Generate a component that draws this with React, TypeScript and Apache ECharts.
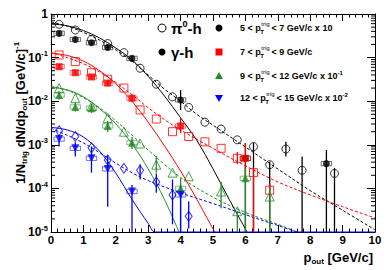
import React, { useEffect, useRef } from "react";
import * as echarts from "echarts";

const FF = "'Liberation Sans', Arial, Helvetica, sans-serif";

// ---------- pi0-h (open markers) ----------
const PI0_57_X = [0.25, 0.75, 1.25, 1.75, 2.25, 2.75, 3.25, 3.75, 4.25, 4.75, 5.25, 5.75, 6.25, 6.75, 7.25, 7.75, 8.75];
const PI0_57_Y = [0.58, 0.43, 0.26, 0.21, 0.13, 0.057, 0.0245, 0.0126, 0.0072, 0.0033, 0.0023, 0.0013, 0.00091, 0.00035, 0.0008, 0.00026, 0.00022];
const PI0_57_BAR_X = [6.25, 6.75, 7.25, 7.75, 8.75];
const PI0_57_BAR_LO = [1e-5, 1e-5, 5.4e-4, 1e-5, 1e-5];
const PI0_57_BAR_HI = [1.1e-3, 4.1e-4, 1.17e-3, 5.4e-4, 2.95e-4];

const PI0_79_X = [0.25, 0.75, 1.25, 1.75, 2.25, 2.75, 3.25, 3.75, 4.25, 4.75, 5.25, 5.75, 6.25, 6.75];
const PI0_79_Y = [0.115, 0.081, 0.045, 0.032, 0.02, 0.0063, 0.0039, 0.002, 0.00155, 0.00117, 0.00083, 0.00049, 0.00023, 9.1e-5];
const PI0_79_BAR_X = [5.75, 6.25, 6.75];
const PI0_79_BAR_LO = [3.6e-4, 1e-5, 5.5e-5];
const PI0_79_BAR_HI = [6.8e-4, 3.0e-4, 1.3e-4];

const PI0_912_X = [0.25, 0.75, 1.25, 1.75, 2.25, 2.75, 3.25, 3.75, 4.25, 5.25, 5.75, 6.75];
const PI0_912_Y = [0.02, 0.0117, 0.0076, 0.0041, 0.002, 0.00107, 3.5e-4, 2.3e-4, 1.9e-4, 8.5e-5, 3.0e-5, 6.5e-5];
const PI0_912_BAR_X = [3.25, 5.25, 5.75, 6.75];
const PI0_912_BAR_LO = [2.3e-4, 3.5e-5, 1e-5, 1e-5];
const PI0_912_BAR_HI = [5.5e-4, 1.4e-4, 3.0e-5, 1.0e-4];

const PI0_1215_X = [0.25, 0.75, 1.25, 1.75, 2.25, 2.75, 3.25, 3.75, 4.25];
const PI0_1215_Y = [0.0021, 0.00155, 0.00085, 0.00045, 0.00029, 0.00026, 0.00014, 7.1e-5, 2.3e-5];
const PI0_1215_BAR_X = [2.75, 3.25, 3.75, 4.25];
const PI0_1215_BAR_LO = [1.6e-4, 8e-5, 1.5e-5, 1.2e-5];
const PI0_1215_BAR_HI = [3.6e-4, 2.2e-4, 1.6e-4, 5e-5];

// ---------- gamma-h (filled markers) ----------
const G_57_X = [0.25, 0.75, 1.25, 1.75, 2.5, 4.0, 6.0, 8.5];
const G_57_Y = [0.36, 0.26, 0.22, 0.17, 0.096, 0.0107, 4.9e-4, 3.7e-4];
const G_57_LO = [0.33, 0.24, 0.2, 0.155, 0.085, 0.0063, 1e-5, 1e-5];
const G_57_HI = [0.39, 0.28, 0.24, 0.185, 0.108, 0.018, 1.1e-3, 7.6e-4];

const G_79_X = [0.25, 0.75, 1.25, 1.75, 2.5, 4.0, 6.0];
const G_79_Y = [0.062, 0.045, 0.036, 0.026, 0.0117, 0.0027, 4.9e-4];
const G_79_LO = [0.055, 0.04, 0.032, 0.022, 0.0095, 0.00186, 1.6e-4];
const G_79_HI = [0.07, 0.05, 0.041, 0.031, 0.0142, 0.0041, 1.1e-3];

const G_912_X = [0.25, 0.75, 1.25, 1.75, 2.5, 4.0, 6.0];
const G_912_Y = [0.0138, 0.0074, 0.0069, 0.0027, 0.00112, 1.0e-4, 1.7e-4];
const G_912_LO = [0.011, 0.0058, 0.0054, 0.002, 0.0008, 1e-5, 1e-5];
const G_912_HI = [0.017, 0.0093, 0.0087, 0.0035, 0.0015, 1.7e-4, 2.95e-4];

const G_1215_X = [0.25, 0.75, 1.25, 1.75, 2.5, 4.0];
const G_1215_Y = [0.00135, 0.00083, 0.00049, 0.00028, 8.5e-5, 7.1e-5];
const G_1215_LO = [9.1e-4, 5.4e-4, 2.3e-4, 3.8e-5, 1e-5, 1e-5];
const G_1215_HI = [1.66e-3, 1.15e-3, 9.1e-4, 5.6e-4, 1.2e-4, 1.2e-4];

// ---------- curves ----------
const BLK_SOLID_X = [0, 0.5, 1, 1.5, 2, 2.5, 3, 3.5, 4, 4.5, 5, 5.5, 6.05];
const BLK_SOLID_Y = [0.589, 0.537, 0.417, 0.282, 0.166, 0.089, 0.0372, 0.0132, 0.00417, 0.00126, 2.8e-4, 5.6e-5, 1e-5];
const BLK_DASH_X = [0, 0.5, 1, 1.5, 2, 2.5, 3, 3.5, 4, 4.5, 5, 6, 7, 8, 9, 10];
const BLK_DASH_Y = [0.66, 0.525, 0.38, 0.251, 0.151, 0.083, 0.0398, 0.019, 0.01, 0.005, 0.00282, 8.9e-4, 2.8e-4, 8.9e-5, 3.16e-5, 1.12e-5];

const RED_SOLID_X = [0, 0.5, 1, 1.5, 2, 2.5, 3, 3.5, 4, 4.5, 5.05];
const RED_SOLID_Y = [0.126, 0.112, 0.083, 0.05, 0.025, 0.01, 0.0033, 9.5e-4, 2.5e-4, 5.6e-5, 1e-5];
const RED_DASH_X = [0, 0.5, 1, 1.5, 2, 2.5, 3, 3.5, 4, 5, 6, 7, 8, 9, 10];
const RED_DASH_Y = [0.132, 0.1, 0.0724, 0.0468, 0.0269, 0.0141, 0.00708, 0.0038, 0.00219, 8.3e-4, 3.3e-4, 1.41e-4, 7.1e-5, 3.8e-5, 2.1e-5];

const GRN_SOLID_X = [0, 0.5, 1, 1.5, 2, 2.5, 3, 3.5, 3.95];
const GRN_SOLID_Y = [0.0209, 0.0182, 0.0126, 0.00676, 0.00302, 0.00105, 2.8e-4, 5.6e-5, 1e-5];
const GRN_DASH_X = [0, 0.5, 1, 1.5, 2, 2.5, 3, 3.5, 4, 5, 6, 7, 7.6];
const GRN_DASH_Y = [0.0224, 0.0178, 0.012, 0.00708, 0.00355, 0.00166, 7.6e-4, 3.55e-4, 1.78e-4, 6.3e-5, 2.8e-5, 1.5e-5, 1e-5];

const BLU_SOLID_X = [0, 0.5, 1, 1.5, 2, 2.5, 3, 3.22, 10];
const BLU_SOLID_Y = [0.00251, 0.00219, 0.00151, 7.1e-4, 2.24e-4, 5.6e-5, 1.58e-5, 1e-5, 1e-5];
const BLU_DASH_X = [0, 0.5, 1, 1.5, 2, 2.5, 3, 4, 5, 6, 7, 7.6];
const BLU_DASH_Y = [0.0024, 0.00166, 0.0011, 6.6e-4, 3.8e-4, 2.29e-4, 1.51e-4, 7.9e-5, 4.5e-5, 2.5e-5, 1.41e-5, 1e-5];

// ---------- text ----------
const X_TICKS = ["0", "1", "2", "3", "4", "5", "6", "7", "8", "9", "10"];
const LEG_PREFIX = ["5 < p", "7 < p", "9 < p", "12 < p"];
const LEG_SUFFIX = ["< 7 GeV/c x 10", "< 9 GeV/c", "< 12 GeV/c x 10{s|-1}", "< 15 GeV/c x 10{s|-2}"];

const BLACK = "#000000";
const RED = "#ff0000";
const GREEN = "#238b23";
const BLUE = "#0000ff";

const zip = (xs: number[], ys: number[]) => xs.map((x, i) => [x, ys[i]]);

function curve(xs: number[], ys: number[], color: string, dashed: boolean, clip = true) {
  return {
    type: "line",
    data: zip(xs, ys),
    showSymbol: false,
    smooth: 0.35,
    clip,
    silent: true,
    z: 2,
    lineStyle: { color, width: 1, type: dashed ? [3, 2] : "solid" },
  };
}

function bars(xs: number[], lo: number[], hi: number[], ys: number[] | null, color: string) {
  return {
    type: "custom",
    silent: true,
    z: 3,
    clip: false,
    data: xs.map((x, i) => [x, lo[i], hi[i], ys ? ys[i] : 0]),
    encode: { x: 0, y: [1, 2] },
    renderItem: (_p: any, api: any) => {
      const x = api.value(0);
      const lo = Math.max(api.value(1), 1e-5);
      const hi = api.value(2);
      const y = api.value(3);
      const a = api.coord([x, lo]);
      const b = api.coord([x, hi]);
      const children: any[] = [
        { type: "line", shape: { x1: a[0], y1: a[1], x2: b[0], y2: b[1] }, style: { stroke: color, lineWidth: 1.3 } },
      ];
      if (ys) {
        const c1 = api.coord([x - 0.16, y * 1.12]);
        const c2 = api.coord([x + 0.16, y / 1.12]);
        children.push({
          type: "rect",
          shape: { x: c1[0], y: c1[1], width: c2[0] - c1[0], height: c2[1] - c1[1] },
          style: { fill: "none", stroke: color, lineWidth: 0.8, opacity: 0.7 },
        });
      }
      return { type: "group", children };
    },
  };
}

function points(xs: number[], ys: number[], color: string, symbol: string, size: any, open: boolean, rotate = 0) {
  return {
    type: "scatter",
    data: zip(xs, ys),
    symbol,
    symbolSize: size,
    symbolRotate: rotate,
    silent: true,
    z: 4,
    itemStyle: open
      ? { color: "rgba(255,255,255,0)", borderColor: color, borderWidth: 1 }
      : { color, borderWidth: 0 },
  };
}

function buildOption() {
  const minor: number[][] = [];
  for (let e = -5; e < 0; e++) for (let m = 2; m <= 9; m++) minor.push([0, m * Math.pow(10, e)]);

  const ctx = document.createElement("canvas").getContext("2d")!;
  const graphics: any[] = [];
  const ROWS = [28, 52, 76, 98];
  const legMarks = [
    { type: "circle", shape: { cx: 219, cy: ROWS[0], r: 3.5 }, style: { fill: BLACK } },
    { type: "rect", shape: { x: 215.5, y: ROWS[1] - 3.5, width: 7, height: 7 }, style: { fill: RED } },
    { type: "polygon", shape: { points: [[219, ROWS[2] - 4], [223, ROWS[2] + 3], [215, ROWS[2] + 3]] }, style: { fill: GREEN } },
    { type: "polygon", shape: { points: [[219, ROWS[3] + 4], [223, ROWS[3] - 3], [215, ROWS[3] - 3]] }, style: { fill: BLUE } },
  ];
  graphics.push(...legMarks);
  ROWS.forEach((y, i) => {
    ctx.font = `bold 9px ${FF}`;
    const wp = ctx.measureText(LEG_PREFIX[i]).width;
    ctx.font = `6px ${FF}`;
    const wt = ctx.measureText("trig").width;
    const x0 = 240;
    graphics.push({
      type: "text", x: x0, y,
      style: { text: LEG_PREFIX[i], fill: BLACK, fontSize: 9, fontWeight: "bold", fontFamily: FF, align: "left", verticalAlign: "middle" },
    });
    graphics.push({
      type: "text", x: x0 + wp + 0.5, y: y - 4,
      style: { text: "trig", fill: BLACK, fontSize: 6, fontFamily: FF, align: "left", verticalAlign: "middle" },
    });
    graphics.push({
      type: "text", x: x0 + wp - 0.5, y: y + 4,
      style: { text: "T", fill: BLACK, fontSize: 6, fontWeight: "bold", fontFamily: FF, align: "left", verticalAlign: "middle" },
    });
    graphics.push({
      type: "text", x: x0 + wp + wt + 2.5, y,
      style: {
        text: LEG_SUFFIX[i], fill: BLACK, fontSize: 9, fontWeight: "bold", fontFamily: FF, align: "left", verticalAlign: "middle",
        rich: { s: { fontSize: 6, fontWeight: "bold", fontFamily: FF, fill: BLACK, padding: [0, 0, 6, 0] } },
      },
    });
  });
  // left legend column
  graphics.push({ type: "circle", shape: { cx: 162, cy: 28, r: 4 }, style: { fill: "none", stroke: BLACK, lineWidth: 1 } });
  graphics.push({ type: "circle", shape: { cx: 162, cy: 52, r: 3.5 }, style: { fill: BLACK } });
  graphics.push({
    type: "text", x: 171, y: 28,
    style: {
      text: "π{s|0}-h", fill: BLACK, fontSize: 15, fontWeight: "bold", fontFamily: FF, align: "left", verticalAlign: "middle",
      rich: { s: { fontSize: 9, fontWeight: "bold", fontFamily: FF, fill: BLACK, padding: [0, 0, 9, 0] } },
    },
  });
  graphics.push({
    type: "text", x: 171, y: 52,
    style: { text: "γ-h", fill: BLACK, fontSize: 15, fontWeight: "bold", fontFamily: FF, align: "left", verticalAlign: "middle" },
  });
  // y title
  graphics.push({
    type: "text", x: 20, y: 113, rotation: Math.PI / 2,
    style: {
      text: "1/N{b|trig} dN/dp{b|out} [GeV/c]{t|-1}", fill: BLACK, fontSize: 13, fontWeight: "bold", fontFamily: FF,
      align: "center", verticalAlign: "middle",
      rich: {
        b: { fontSize: 8, fontWeight: "bold", fontFamily: FF, fill: BLACK, padding: [8, 0, 0, 0] },
        t: { fontSize: 8, fontWeight: "bold", fontFamily: FF, fill: BLACK, padding: [0, 0, 8, 0] },
      },
    },
  });
  // x title
  graphics.push({
    type: "text", x: 373, y: 257,
    style: {
      text: "p{b|out} [GeV/c]", fill: BLACK, fontSize: 13, fontWeight: "bold", fontFamily: FF, align: "right", verticalAlign: "middle",
      rich: { b: { fontSize: 8, fontWeight: "bold", fontFamily: FF, fill: BLACK, padding: [9, 0, 0, 0] } },
    },
  });

  const axisCommonX = {
    type: "value", min: 0, max: 10, interval: 1,
    axisLine: { show: true, onZero: false, lineStyle: { color: BLACK, width: 1 } },
    axisTick: { show: true, inside: true, length: 7, lineStyle: { color: BLACK } },
    minorTick: { show: true, splitNumber: 5, length: 3.5, lineStyle: { color: BLACK } },
    splitLine: { show: false },
    minorSplitLine: { show: false },
  };
  const axisCommonY = {
    type: "log", logBase: 10, min: 1e-5, max: 1,
    axisLine: { show: true, onZero: false, lineStyle: { color: BLACK, width: 1 } },
    axisTick: { show: true, inside: true, length: 8, lineStyle: { color: BLACK } },
    splitLine: { show: false },
  };

  return {
    animation: false,
    backgroundColor: "#ffffff",
    grid: { left: 51, right: 15, top: 14, bottom: 38 },
    xAxis: [
      {
        ...axisCommonX,
        position: "bottom",
        axisLabel: {
          show: true, color: BLACK, fontFamily: FF, fontWeight: "bold", fontSize: 11.5, margin: 2,
          formatter: (v: number) => X_TICKS[Math.round(v)] ?? "",
        },
      },
      { ...axisCommonX, position: "top", axisLabel: { show: false } },
    ],
    yAxis: [
      {
        ...axisCommonY,
        position: "left",
        axisLabel: {
          show: true, color: BLACK, fontFamily: FF, fontWeight: "bold", fontSize: 12, margin: 3,
          formatter: (v: number) => {
            const e = Math.round(Math.log10(v));
            return e === 0 ? "1" : "10{s|" + e + "}";
          },
          rich: { s: { fontSize: 7.5, fontWeight: "bold", fontFamily: FF, color: BLACK, padding: [0, 0, 8, 0] } },
        },
      },
      { ...axisCommonY, position: "right", axisLabel: { show: false } },
    ],
    graphic: graphics,
    series: [
      {
        type: "custom", silent: true, z: 1, clip: false,
        data: minor,
        renderItem: (_p: any, api: any) => {
          const v = api.value(1);
          const a = api.coord([0, v]);
          const b = api.coord([10, v]);
          return {
            type: "group",
            children: [
              { type: "line", shape: { x1: a[0], y1: a[1], x2: a[0] + 4, y2: a[1] }, style: { stroke: BLACK, lineWidth: 1 } },
              { type: "line", shape: { x1: b[0], y1: b[1], x2: b[0] - 4, y2: b[1] }, style: { stroke: BLACK, lineWidth: 1 } },
            ],
          };
        },
      },
      curve(BLK_DASH_X, BLK_DASH_Y, BLACK, true),
      curve(RED_DASH_X, RED_DASH_Y, RED, true),
      curve(GRN_DASH_X, GRN_DASH_Y, GREEN, true),
      curve(BLU_DASH_X, BLU_DASH_Y, BLUE, true),
      curve(BLK_SOLID_X, BLK_SOLID_Y, BLACK, false),
      curve(RED_SOLID_X, RED_SOLID_Y, RED, false),
      curve(GRN_SOLID_X, GRN_SOLID_Y, GREEN, false),
      curve(BLU_SOLID_X, BLU_SOLID_Y, BLUE, false, false),

      bars(PI0_57_BAR_X, PI0_57_BAR_LO, PI0_57_BAR_HI, null, BLACK),
      bars(PI0_79_BAR_X, PI0_79_BAR_LO, PI0_79_BAR_HI, null, RED),
      bars(PI0_912_BAR_X, PI0_912_BAR_LO, PI0_912_BAR_HI, null, GREEN),
      bars(PI0_1215_BAR_X, PI0_1215_BAR_LO, PI0_1215_BAR_HI, null, BLUE),
      bars(G_57_X, G_57_LO, G_57_HI, G_57_Y, BLACK),
      bars(G_79_X, G_79_LO, G_79_HI, G_79_Y, RED),
      bars(G_912_X, G_912_LO, G_912_HI, G_912_Y, GREEN),
      bars(G_1215_X, G_1215_LO, G_1215_HI, G_1215_Y, BLUE),

      points(PI0_57_X, PI0_57_Y, BLACK, "circle", 8, true),
      points(PI0_79_X, PI0_79_Y, RED, "rect", 8, true),
      points(PI0_912_X, PI0_912_Y, GREEN, "triangle", 9, true),
      points(PI0_1215_X, PI0_1215_Y, BLUE, "diamond", [7, 10], true),
      points(G_57_X, G_57_Y, BLACK, "circle", 7, false),
      points(G_79_X, G_79_Y, RED, "rect", 7, false),
      points(G_912_X, G_912_Y, GREEN, "triangle", 8, false),
      points(G_1215_X, G_1215_Y, BLUE, "triangle", 8, false, 180),
    ],
  };
}

export default function App() {
  const ref = useRef<HTMLDivElement>(null);
  useEffect(() => {
    document.body.style.margin = "0";
    const chart = echarts.init(ref.current!, null, { renderer: "svg" });
    chart.setOption(buildOption() as any);
    return () => chart.dispose();
  }, []);
  return <div ref={ref} style={{ position: "absolute", left: 0, top: 0, width: 390, height: 270 }} />;
}
